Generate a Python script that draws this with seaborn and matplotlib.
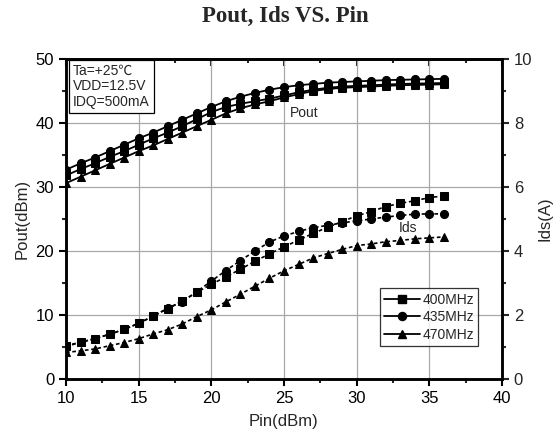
import numpy as np
import pandas as pd
import matplotlib
matplotlib.use("Agg")
import matplotlib.pyplot as plt
import seaborn as sns
from matplotlib.ticker import MultipleLocator
from matplotlib.lines import Line2D

# ---- data ----
pin = list(range(10, 37))
freqs = ["400MHz", "435MHz", "470MHz"]

pout_400 = [31.8, 32.8, 33.7, 34.7, 35.6, 36.6, 37.6, 38.5, 39.5, 40.6, 41.7, 42.5, 43.0, 43.4,
            43.8, 44.3, 44.8, 45.2, 45.5, 45.7, 45.8, 45.9, 46.0, 46.1, 46.15, 46.2, 46.25]
pout_435 = [32.7, 33.7, 34.6, 35.6, 36.6, 37.6, 38.5, 39.5, 40.5, 41.5, 42.5, 43.4, 44.1, 44.7,
            45.2, 45.6, 45.9, 46.1, 46.3, 46.4, 46.5, 46.6, 46.7, 46.75, 46.8, 46.85, 46.9]
pout_470 = [30.6, 31.6, 32.6, 33.6, 34.6, 35.6, 36.5, 37.5, 38.5, 39.5, 40.5, 41.5, 42.3, 42.9,
            43.4, 44.0, 44.5, 45.0, 45.3, 45.5, 45.6, 45.7, 45.8, 45.9, 45.95, 46.0, 46.05]

ids_400 = [1.04, 1.15, 1.26, 1.40, 1.55, 1.74, 1.96, 2.20, 2.43, 2.71, 2.96, 3.19, 3.43, 3.68,
           3.91, 4.13, 4.34, 4.55, 4.74, 4.92, 5.10, 5.23, 5.39, 5.49, 5.57, 5.67, 5.72]
ids_435 = [1.01, 1.15, 1.26, 1.40, 1.55, 1.74, 1.97, 2.21, 2.42, 2.73, 3.06, 3.39, 3.70, 4.00,
           4.28, 4.47, 4.61, 4.73, 4.80, 4.88, 4.94, 5.00, 5.06, 5.11, 5.15, 5.16, 5.16]
ids_470 = [0.83, 0.88, 0.94, 1.04, 1.14, 1.26, 1.41, 1.54, 1.72, 1.95, 2.16, 2.41, 2.65, 2.90,
           3.15, 3.38, 3.58, 3.78, 3.92, 4.05, 4.17, 4.22, 4.29, 4.33, 4.38, 4.41, 4.44]

x_ticks = [10, 15, 20, 25, 30, 35, 40]
y_left_ticks = [0, 10, 20, 30, 40, 50]
y_right_ticks = [0, 2, 4, 6, 8, 10]

df_pout = pd.DataFrame({
    "Pin": pin * 3,
    "val": pout_400 + pout_435 + pout_470,
    "freq": [f for f in freqs for _ in pin],
})
df_ids = pd.DataFrame({
    "Pin": pin * 3,
    "val": ids_400 + ids_435 + ids_470,
    "freq": [f for f in freqs for _ in pin],
})

sns.set_theme(style="ticks")
plt.rcParams["font.family"] = ["Liberation Sans", "DejaVu Sans"]

fig = plt.figure(figsize=(5.59, 4.46), dpi=100)
ax = fig.add_axes([66 / 559, 1 - 379 / 446, 436 / 559, 320 / 446])
ax2 = ax.twinx()

markers = {"400MHz": "s", "435MHz": "o", "470MHz": "^"}
pal = {f: "black" for f in freqs}
MS = 5.8

sns.lineplot(data=df_pout, x="Pin", y="val", hue="freq", style="freq", markers=markers,
             dashes=False, palette=pal, ax=ax, markersize=MS, linewidth=1.3,
             markeredgecolor="black", legend=False)
sns.lineplot(data=df_ids, x="Pin", y="val", hue="freq", style="freq", markers=markers,
             dashes={f: (2.2, 1.6) for f in freqs}, palette=pal, ax=ax2, markersize=MS,
             linewidth=1.2, markeredgecolor="black", legend=False)

ax.set_xlim(10, 40)
ax.set_ylim(0, 50)
ax2.set_ylim(0, 10)
ax.set_xticks(x_ticks)
ax.set_yticks(y_left_ticks)
ax2.set_yticks(y_right_ticks)
ax.xaxis.set_minor_locator(MultipleLocator(2.5))
ax.yaxis.set_minor_locator(MultipleLocator(5))
ax2.yaxis.set_minor_locator(MultipleLocator(1))

ax.grid(True, which="major", color="#a8a8a8", linewidth=0.9)
ax.set_axisbelow(True)

for a in (ax, ax2):
    for s in a.spines.values():
        s.set_linewidth(1.8)
        s.set_color("black")
        s.set_visible(True)

ax.tick_params(axis="both", which="major", direction="out", length=5, width=1.5,
               labelsize=12, colors="black")
ax.tick_params(axis="both", which="minor", direction="out", length=3, width=1.5)
ax2.tick_params(axis="y", which="major", direction="out", length=5, width=1.5, labelsize=12)
ax2.tick_params(axis="y", which="minor", direction="out", length=3, width=1.5)

top = ax.secondary_xaxis("top")
top.set_xticks(x_ticks)
top.xaxis.set_minor_locator(MultipleLocator(2.5))
top.tick_params(axis="x", which="major", direction="in", length=5, width=1.5, labeltop=False)
top.tick_params(axis="x", which="minor", direction="in", length=3, width=1.5)
top.spines["top"].set_linewidth(1.8)

ax.set_xlabel("Pin(dBm)", fontsize=12, labelpad=6)
ax.set_ylabel("Pout(dBm)", fontsize=12, labelpad=4)
ax2.set_ylabel("Ids(A)", fontsize=12, labelpad=4)

fig.text(0.51, 1 - 16 / 446, "Pout, Ids VS. Pin", ha="center", va="center",
         fontsize=16.5, fontweight="bold", family=["Liberation Serif", "DejaVu Serif"])

ax.text(0.016, 0.985, "Ta=+25\u2103\nVDD=12.5V\nIDQ=500mA", transform=ax.transAxes,
        ha="left", va="top", fontsize=10, linespacing=1.15,
        family=["Liberation Sans", "Noto Sans CJK SC", "DejaVu Sans"],
        bbox=dict(boxstyle="square,pad=0.3", facecolor="white", edgecolor="black", linewidth=0.9))

ax.text(25.4, 41.6, "Pout", fontsize=10, ha="left", va="center")
ax.text(32.9, 23.6, "Ids", fontsize=10, ha="left", va="center")

handles = [Line2D([], [], color="black", marker=markers[f], markersize=MS, linewidth=1.3)
           for f in freqs]
leg = ax2.legend(handles, freqs, loc="lower right", bbox_to_anchor=(0.946, 0.104),
                 fontsize=10, frameon=True, fancybox=False, handlelength=2.6,
                 handletextpad=0.2, borderpad=0.3, labelspacing=0.25, borderaxespad=0)
leg.get_frame().set_edgecolor("black")
leg.get_frame().set_linewidth(0.9)

fig.savefig("out.png", dpi=100)
